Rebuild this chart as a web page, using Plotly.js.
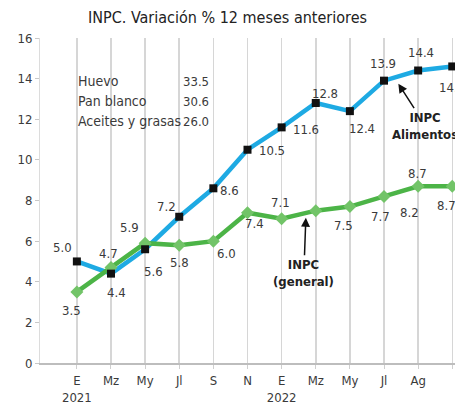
<!DOCTYPE html>
<html>
<head>
<meta charset="utf-8">
<script src="https://cdn.plot.ly/plotly-3.0.1.min.js"></script>
<style>
  html, body { margin: 0; padding: 0; background: #fff; }
  #chart { width: 455px; height: 411px; }
  #chart svg text { font-stretch: condensed; }
</style>
</head>
<body>
<div id="chart"></div>
<script>
// Data
const months = ['E', 'Mz', 'My', 'Jl', 'S', 'N', 'E', 'Mz', 'My', 'Jl', 'Ag', 'S'];
const years = ['2021', '', '', '', '', '', '2022', '', '', '', '', ''];
const alimentos = [5.0, 4.4, 5.6, 7.2, 8.6, 10.5, 11.6, 12.8, 12.4, 13.9, 14.4, 14.6];
const general = [3.5, 4.7, 5.9, 5.8, 6.0, 7.4, 7.1, 7.5, 7.7, 8.2, 8.7, 8.7];
const tableItems = ['Huevo', 'Pan blanco', 'Aceites y grasas'];
const tableValues = [33.5, 30.6, 26.0];

// label offsets in px [dx, dy] relative to each point (dy down)
const alimentosOffsets = [[-14, -14], [6, 19], [8, 22], [-13, -10], [16, 2], [24, 1],
    [24, 2], [9, -10], [12, 17], [-1, -17], [3, -18], [0, 21]];
const generalOffsets = [[-5, 19], [-2, -14], [-16, -16], [0, 17], [13, 12], [7, 11],
    [-1, -16], [28, 15], [31, 10], [25, 16], [-1, -13], [-6, 19]];

const FONT = '"DejaVu Sans Condensed", "DejaVu Sans", sans-serif';
const TEXT = '#3a3a3a';
const BLUE = '#1eaae3';
const GREEN = '#4cb447';

const xs = months.map((m, i) => i);
const tickText = months.map((m, i) => years[i] ? `${m}<br>${years[i]}` : m);

const traces = [
    {
        x: xs, y: alimentos, type: 'scatter', mode: 'lines',
        line: { color: BLUE, width: 4.5 }, hoverinfo: 'skip'
    },
    {
        x: xs, y: general, type: 'scatter', mode: 'lines+markers',
        line: { color: GREEN, width: 4.5 },
        marker: { symbol: 'diamond', size: 10, color: '#72c468' }
    },
    {
        x: xs, y: alimentos, type: 'scatter', mode: 'markers',
        marker: { symbol: 'square', size: 8, color: '#111' }
    }
];

const annotations = [];

function addLabels(values, offsets) {
    values.forEach((v, i) => {
        annotations.push({
            x: xs[i], y: v, xref: 'x', yref: 'y',
            text: v.toFixed(1), showarrow: false,
            xshift: offsets[i][0], yshift: -offsets[i][1],
            font: { family: FONT, size: 13, color: TEXT }
        });
    });
}
addLabels(alimentos, alimentosOffsets);
addLabels(general, generalOffsets);

// small table at top left
tableItems.forEach((item, i) => {
    const yPx = 81 + i * 20;
    const yPaper = (363 - yPx) / 325;
    annotations.push({
        xref: 'paper', yref: 'paper', x: (76 - 40) / 415, y: yPaper,
        xanchor: 'left', yanchor: 'middle', showarrow: false,
        text: item, font: { family: FONT, size: 14, color: TEXT }
    });
    annotations.push({
        xref: 'paper', yref: 'paper', x: (211 - 40) / 415, y: yPaper,
        xanchor: 'right', yanchor: 'middle', showarrow: false,
        text: tableValues[i].toFixed(1), font: { family: FONT, size: 13, color: TEXT }
    });
});

// callouts
annotations.push({
    x: 9.42, y: 13.75, xref: 'x', yref: 'y',
    text: '<b>INPC<br>Alimentos</b>', showarrow: true,
    ax: 27, ay: 42, arrowhead: 2, arrowsize: 1.2, arrowwidth: 1.5, arrowcolor: '#111',
    font: { family: FONT, size: 13, color: '#222' }
});
annotations.push({
    x: 6.71, y: 7.15, xref: 'x', yref: 'y',
    text: '<b>INPC<br>(general)</b>', showarrow: true,
    ax: -2, ay: 55, arrowhead: 2, arrowsize: 1.2, arrowwidth: 1.5, arrowcolor: '#111',
    font: { family: FONT, size: 13, color: '#222' }
});

const layout = {
    width: 455,
    height: 411,
    margin: { l: 40, r: 0, t: 38, b: 48 },
    paper_bgcolor: '#fff',
    plot_bgcolor: '#fff',
    showlegend: false,
    title: {
        text: 'INPC. Variación % 12 meses anteriores',
        x: 0.5, xanchor: 'center', y: 1 - 17 / 411, yanchor: 'middle',
        font: { family: FONT, size: 16, color: '#222' }
    },
    xaxis: {
        range: [-1.08, 11.08],
        tickvals: xs,
        ticktext: tickText,
        showgrid: true,
        gridcolor: '#d6d6d6',
        gridwidth: 1.5,
        zeroline: false,
        showline: true,
        linecolor: '#bdbdbd',
        linewidth: 2,
        ticks: 'outside',
        ticklen: 4,
        tickcolor: '#cfcfcf',
        tickfont: { family: FONT, size: 13, color: TEXT },
        fixedrange: true
    },
    yaxis: {
        range: [0, 16],
        tickvals: [0, 2, 4, 6, 8, 10, 12, 14, 16],
        showgrid: false,
        zeroline: false,
        showline: true,
        linecolor: '#dcdcdc',
        linewidth: 1,
        ticks: 'outside',
        ticklen: 4,
        tickcolor: '#c8c8c8',
        tickfont: { family: FONT, size: 13, color: TEXT },
        fixedrange: true
    },
    shapes: [
        {
            type: 'rect', xref: 'paper', yref: 'paper', layer: 'below',
            x0: (72 - 40) / 415, x1: (214 - 40) / 415,
            y0: (363 - 133) / 325, y1: (363 - 70) / 325,
            fillcolor: '#fff', line: { width: 0 }
        }
    ],
    annotations: annotations
};

Plotly.newPlot('chart', traces, layout, { displayModeBar: false, staticPlot: true });
</script>
</body>
</html>
